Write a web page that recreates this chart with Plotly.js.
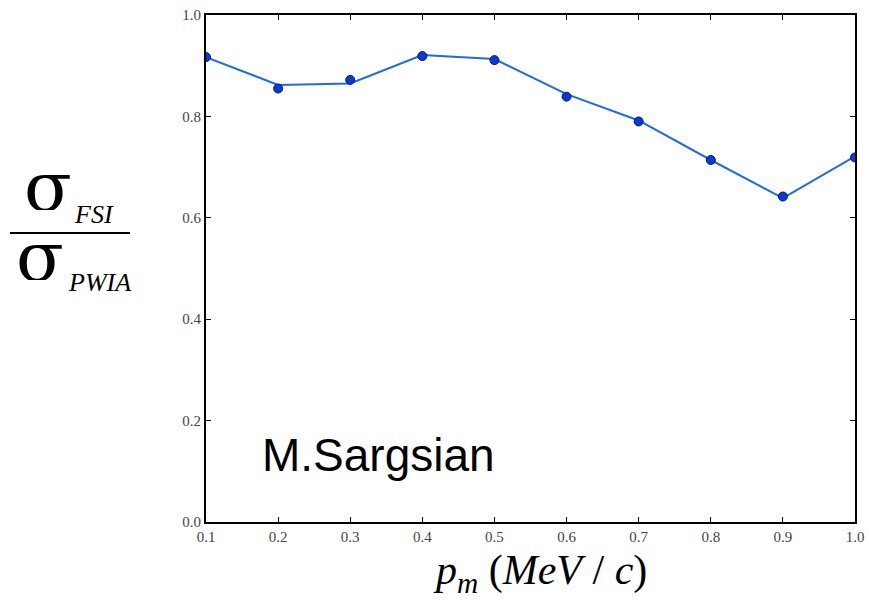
<!DOCTYPE html>
<html>
<head>
<meta charset="utf-8">
<script src="https://cdn.plot.ly/plotly-3.0.1.min.js"></script>
<style>html,body{margin:0;padding:0;background:#fff;}#chart{width:869px;height:600px;}</style>
</head>
<body>
<div id="chart"></div>
<script>
// Data
const pm = [0.1, 0.2, 0.3, 0.4, 0.5, 0.6, 0.7, 0.8, 0.9, 1.0];
const ratioPoints = [0.917, 0.855, 0.872, 0.919, 0.911, 0.839, 0.790, 0.714, 0.642, 0.719];
const ratioCurve = [0.917, 0.862, 0.865, 0.921, 0.913, 0.844, 0.792, 0.714, 0.639, 0.721];
const xTicks = [0.1, 0.2, 0.3, 0.4, 0.5, 0.6, 0.7, 0.8, 0.9, 1.0];
const xTickText = ["0.1", "0.2", "0.3", "0.4", "0.5", "0.6", "0.7", "0.8", "0.9", "1.0"];
const yTicks = [0.0, 0.2, 0.4, 0.6, 0.8, 1.0];
const yTickText = ["0.0", "0.2", "0.4", "0.6", "0.8", "1.0"];

const traces = [
  {
    x: pm, y: ratioCurve, type: 'scatter', mode: 'lines',
    line: {color: '#1f6ae6', width: 2}, hoverinfo: 'skip'
  },
  {
    x: pm, y: ratioPoints, type: 'scatter', mode: 'markers',
    marker: {color: '#0a3ad6', size: 9, line: {color: '#0a1a60', width: 1}}
  }
];

const axisCommon = {
  showgrid: false, zeroline: false,
  showline: true, linecolor: '#000', linewidth: 2,
  mirror: 'ticks', ticks: 'inside', ticklen: 5, tickcolor: '#000', tickwidth: 1,
  tickfont: {family: 'Liberation Serif, DejaVu Serif, serif', size: 15, color: '#444'}
};

const serif = 'Liberation Serif, Times New Roman, serif';

const layout = {
  width: 869, height: 600,
  margin: {l: 206, r: 14, t: 15, b: 78},
  paper_bgcolor: '#fff', plot_bgcolor: '#fff',
  showlegend: false,
  xaxis: Object.assign({}, axisCommon, {
    range: [0.1, 1.0], tickmode: 'array', tickvals: xTicks, ticktext: xTickText
  }),
  yaxis: Object.assign({}, axisCommon, {
    range: [0, 1.0], tickmode: 'array', tickvals: yTicks, ticktext: yTickText
  }),
  shapes: [
    {type: 'line', xref: 'paper', yref: 'paper', x0: -0.302, x1: -0.117, y0: 0.570, y1: 0.570,
     line: {color: '#000', width: 2}}
  ],
  annotations: [
    {xref: 'paper', yref: 'paper', x: 0.083, y: 0.132, xanchor: 'left', yanchor: 'middle',
     text: 'M.Sargsian', showarrow: false,
     font: {family: 'Liberation Sans, Arial, sans-serif', size: 46, color: '#000'}},
    {xref: 'paper', yref: 'paper', x: 0.515, y: -0.100, xanchor: 'center', yanchor: 'middle',
     text: '<i>p<sub>m</sub></i> (<i>MeV</i> / <i>c</i>)', showarrow: false,
     font: {family: serif, size: 42, color: '#000'}},
    {xref: 'paper', yref: 'paper', x: -0.2835, y: 0.660, xanchor: 'left', yanchor: 'middle',
     text: 'σ', showarrow: false, height: 46,
     font: {family: 'DejaVu Serif, serif', size: 70, color: '#000'}},
    {xref: 'paper', yref: 'paper', x: -0.2065, y: 0.606, xanchor: 'left', yanchor: 'middle',
     text: '<i>FSI</i>', showarrow: false,
     font: {family: serif, size: 26, color: '#000'}},
    {xref: 'paper', yref: 'paper', x: -0.2958, y: 0.522, xanchor: 'left', yanchor: 'middle',
     text: 'σ', showarrow: false, height: 46,
     font: {family: 'DejaVu Serif, serif', size: 70, color: '#000'}},
    {xref: 'paper', yref: 'paper', x: -0.2157, y: 0.473, xanchor: 'left', yanchor: 'middle',
     text: '<i>PWIA</i>', showarrow: false,
     font: {family: serif, size: 26, color: '#000'}}
  ]
};

Plotly.newPlot('chart', traces, layout, {displayModeBar: false, staticPlot: true});
</script>
</body>
</html>
